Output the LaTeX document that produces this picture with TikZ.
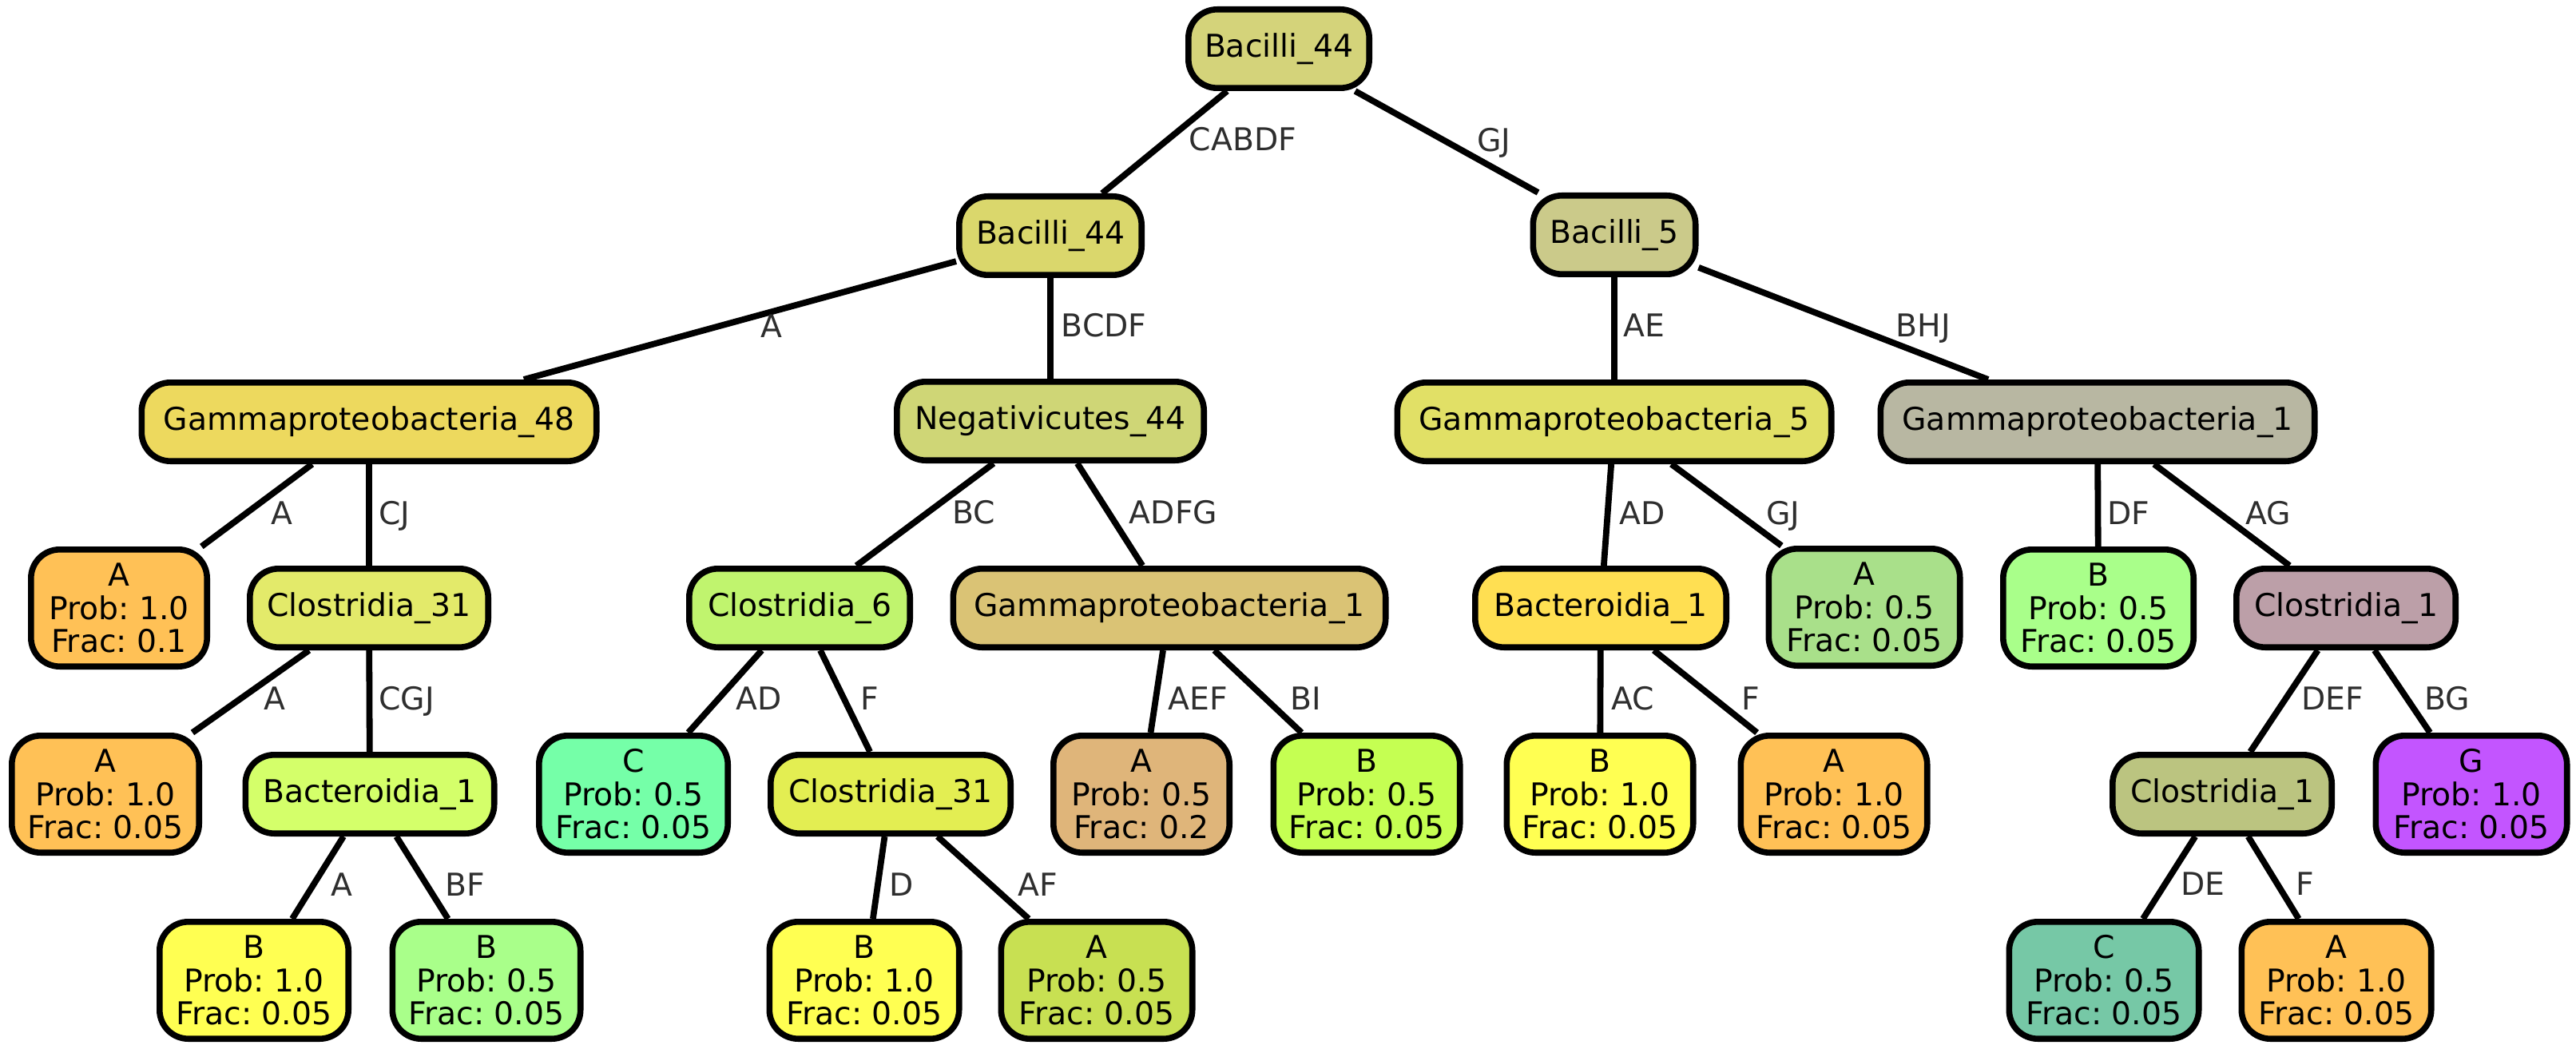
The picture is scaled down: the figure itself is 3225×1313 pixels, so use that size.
\documentclass[tikz,border=0pt]{standalone}
\usepackage{fontspec}
\setmainfont{DejaVu Sans}
\definecolor{cRoot}{RGB}{212,211,122}
\definecolor{cBac}{RGB}{218,215,108}
\definecolor{cNeg}{RGB}{207,214,118}
\definecolor{cBfive}{RGB}{203,202,138}
\definecolor{cGfive}{RGB}{225,224,102}
\definecolor{cGoneR}{RGB}{184,183,162}
\definecolor{cGfe}{RGB}{237,217,94}
\definecolor{cCloA}{RGB}{227,234,106}
\definecolor{cBacL}{RGB}{212,255,106}
\definecolor{cCsix}{RGB}{192,244,110}
\definecolor{cGoneM}{RGB}{218,195,117}
\definecolor{cCloB}{RGB}{227,238,82}
\definecolor{cBacR}{RGB}{255,223,82}
\definecolor{cCloU}{RGB}{188,159,168}
\definecolor{cCloL}{RGB}{187,196,128}
\definecolor{cOrange}{RGB}{255,193,86}
\definecolor{cYellow}{RGB}{255,255,82}
\definecolor{cLgreen}{RGB}{169,255,138}
\definecolor{cMint}{RGB}{117,255,168}
\definecolor{cLime}{RGB}{197,255,82}
\definecolor{cOlive}{RGB}{200,224,82}
\definecolor{cTan}{RGB}{223,181,122}
\definecolor{cSage}{RGB}{169,224,138}
\definecolor{cPurple}{RGB}{195,85,255}
\definecolor{cTeal}{RGB}{118,200,166}
\definecolor{lblgray}{RGB}{46,46,46}
\begin{document}
\frenchspacing
\begin{tikzpicture}[x=1pt,y=-1pt,
  box/.style={draw=black, line width=7.6pt, rounded corners=36pt, inner xsep=4pt, inner ysep=0pt,
    font=\fontsize{39.3}{41.5}\selectfont, text=black},
  ow/.style={minimum width={#1pt-7.6pt}},
  inode/.style={box, minimum height=98.4pt},
  leaf/.style={box, minimum height=146.4pt, align=center},
  lbl/.style={font=\fontsize{39.3}{41.5}\selectfont, text=lblgray, inner sep=0pt, text height=28.5pt, text depth=0pt},
  conn/.style={line width=7.8pt}]
\fill[white] (0,0) rectangle (3225,1313);
\useasboundingbox (0,0) rectangle (3225,1313);
% internal nodes
\node[inode, fill=cRoot, ow=234] (root) at (1601,61) {Bacilli\_44};
\node[inode, fill=cBac, ow=236] (b44) at (1315,295) {Bacilli\_44};
\node[inode, fill=cBfive, ow=211] (b5) at (2021,294) {Bacilli\_5};
\node[inode, fill=cGfe, ow=577] (g48) at (462,528) {Gammaproteobacteria\_48};
\node[inode, fill=cNeg, ow=392] (neg) at (1315,527) {Negativicutes\_44};
\node[inode, fill=cGfive, ow=551] (g5) at (2021,528) {Gammaproteobacteria\_5};
\node[inode, fill=cGoneR, ow=551] (g1r) at (2626,528) {Gammaproteobacteria\_1};
\node[inode, fill=cCloA, ow=306] (c31a) at (462,761) {Clostridia\_31};
\node[inode, fill=cCsix, ow=284] (c6) at (1001,761) {Clostridia\_6};
\node[inode, fill=cGoneM, ow=549] (g1m) at (1464,761) {Gammaproteobacteria\_1};
\node[inode, fill=cBacR, ow=322] (bac1r) at (2004,761) {Bacteroidia\_1};
\node[inode, fill=cCloU, ow=282] (clo1u) at (2937,761) {Clostridia\_1};
\node[inode, fill=cBacL, ow=319] (bac1l) at (463,994) {Bacteroidia\_1};
\node[inode, fill=cCloB, ow=308] (c31b) at (1115,994) {Clostridia\_31};
\node[inode, fill=cCloL, ow=282] (clo1l) at (2782,994) {Clostridia\_1};
% leaves
\node[leaf, fill=cOrange, ow=228] (l1) at (149,761) {A\\Prob: 1.0\\Frac: 0.1};
\node[leaf, fill=cOrange, ow=242] (l2) at (132,994) {A\\Prob: 1.0\\Frac: 0.05};
\node[leaf, fill=cYellow, ow=244] (l3) at (318,1227) {B\\Prob: 1.0\\Frac: 0.05};
\node[leaf, fill=cLgreen, ow=243] (l4) at (609,1227) {B\\Prob: 0.5\\Frac: 0.05};
\node[leaf, fill=cMint, ow=244] (l5) at (793,994) {C\\Prob: 0.5\\Frac: 0.05};
\node[leaf, fill=cYellow, ow=245] (l6) at (1082,1227) {B\\Prob: 1.0\\Frac: 0.05};
\node[leaf, fill=cOlive, ow=247] (l7) at (1373,1227) {A\\Prob: 0.5\\Frac: 0.05};
\node[leaf, fill=cTan, ow=228] (l8) at (1429,994) {A\\Prob: 0.5\\Frac: 0.2};
\node[leaf, fill=cLime, ow=241] (l9) at (1711,994) {B\\Prob: 0.5\\Frac: 0.05};
\node[leaf, fill=cYellow, ow=241] (l10) at (2003,994) {B\\Prob: 1.0\\Frac: 0.05};
\node[leaf, fill=cOrange, ow=241] (l11) at (2296,994) {A\\Prob: 1.0\\Frac: 0.05};
\node[leaf, fill=cSage, ow=247] (l12) at (2334,760) {A\\Prob: 0.5\\Frac: 0.05};
\node[leaf, fill=cLgreen, ow=246] (l13) at (2627,761) {B\\Prob: 0.5\\Frac: 0.05};
\node[leaf, fill=cPurple, ow=247] (l14) at (3094,994) {G\\Prob: 1.0\\Frac: 0.05};
\node[leaf, fill=cTeal, ow=245] (l15) at (2634,1227) {C\\Prob: 0.5\\Frac: 0.05};
\node[leaf, fill=cOrange, ow=245] (l16) at (2925,1227) {A\\Prob: 1.0\\Frac: 0.05};
% connectors
\draw[conn] (root) -- (b44);
\draw[conn] (root) -- (b5);
\draw[conn] (b44) -- (g48);
\draw[conn] (b44) -- (neg);
\draw[conn] (b5) -- (g5);
\draw[conn] (b5) -- (g1r);
\draw[conn] (g48) -- (l1);
\draw[conn] (g48) -- (c31a);
\draw[conn] (neg) -- (c6);
\draw[conn] (neg) -- (g1m);
\draw[conn] (g5) -- (bac1r);
\draw[conn] (g5) -- (l12);
\draw[conn] (g1r) -- (l13);
\draw[conn] (g1r) -- (clo1u);
\draw[conn] (c31a) -- (l2);
\draw[conn] (c31a) -- (bac1l);
\draw[conn] (c6) -- (l5);
\draw[conn] (c6) -- (c31b);
\draw[conn] (g1m) -- (l8);
\draw[conn] (g1m) -- (l9);
\draw[conn] (bac1r) -- (l10);
\draw[conn] (bac1r) -- (l11);
\draw[conn] (clo1u) -- (clo1l);
\draw[conn] (clo1u) -- (l14);
\draw[conn] (bac1l) -- (l3);
\draw[conn] (bac1l) -- (l4);
\draw[conn] (c31b) -- (l6);
\draw[conn] (c31b) -- (l7);
\draw[conn] (clo1l) -- (l15);
\draw[conn] (clo1l) -- (l16);
% connector labels
\node[lbl] (e1) at (1556,174) {CABDF};
\node[lbl] (e2) at (1870,175) {GJ};
\node[lbl] (e3) at (966,408) {A};
\node[lbl] (e4) at (1382,407) {BCDF};
\node[lbl] (e5) at (2058,407) {AE};
\node[lbl] (e6) at (2408,407) {BHJ};
\node[lbl] (e7) at (353,642) {A};
\node[lbl] (e8) at (494,642) {CJ};
\node[lbl] (e9) at (1219,641) {BC};
\node[lbl] (e10) at (1469,641) {ADFG};
\node[lbl] (e11) at (2056,642) {AD};
\node[lbl] (e12) at (2232,642) {GJ};
\node[lbl] (e13) at (2665,642) {DF};
\node[lbl] (e14) at (2840,642) {AG};
\node[lbl] (e15) at (344,874) {A};
\node[lbl] (e16) at (509,874) {CGJ};
\node[lbl] (e17) at (950,874) {AD};
\node[lbl] (e18) at (1089,874) {F};
\node[lbl] (e19) at (1500,874) {AEF};
\node[lbl] (e20) at (1635,874) {BI};
\node[lbl] (e21) at (2044,874) {AC};
\node[lbl] (e22) at (2192,874) {F};
\node[lbl] (e23) at (2920,874) {DEF};
\node[lbl] (e24) at (3064,874) {BG};
\node[lbl] (e25) at (428,1107) {A};
\node[lbl] (e26) at (582,1107) {BF};
\node[lbl] (e27) at (1129,1107) {D};
\node[lbl] (e28) at (1299,1107) {AF};
\node[lbl] (e29) at (2758,1106) {DE};
\node[lbl] (e30) at (2886,1106) {F};
\end{tikzpicture}
\end{document}
